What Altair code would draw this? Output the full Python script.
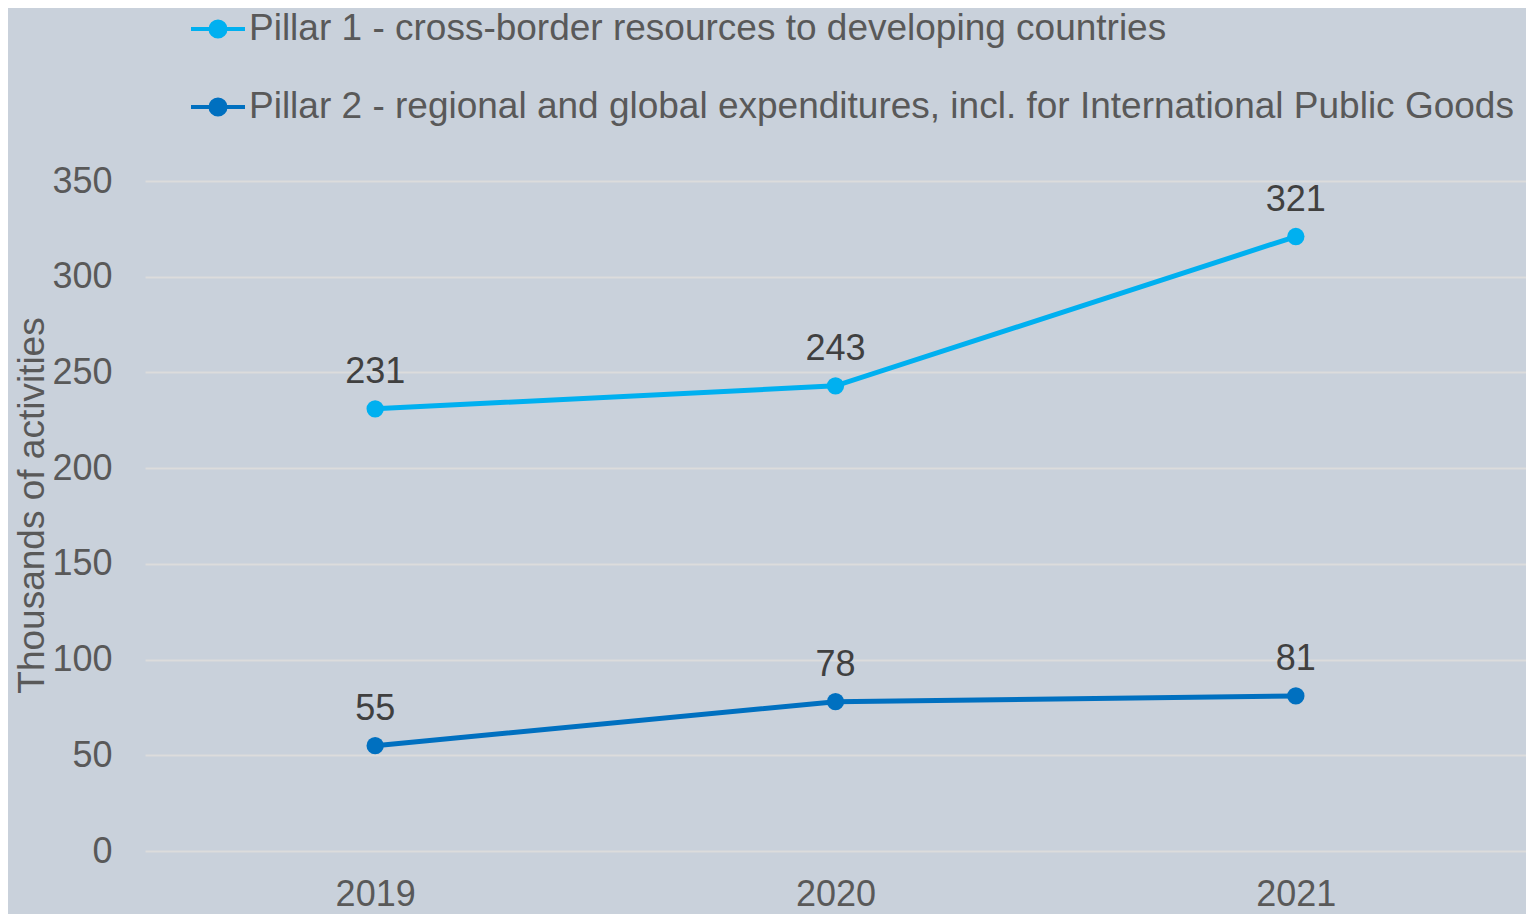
import altair as alt
import pandas as pd

years = ["2019", "2020", "2021"]
series_names = [
    "Pillar 1 - cross-border resources to developing countries",
    "Pillar 2 - regional and global expenditures, incl. for International Public Goods",
]
pillar1 = [231, 243, 321]
pillar2 = [55, 78, 81]
colors = ["#00B0F0", "#0070C0"]

rows = []
for name, vals in zip(series_names, [pillar1, pillar2]):
    for y, v in zip(years, vals):
        rows.append({"year": y, "series": name, "value": v})
df = pd.DataFrame(rows)

FONT = "Liberation Sans"

x = alt.X("year:O", scale=alt.Scale(type="point", padding=0.5),
          axis=alt.Axis(title=None, labelAngle=0, labelFontSize=36, labelColor="#595959",
                        labelFont=FONT, ticks=False, domain=False, grid=False, labelPadding=26))
y = alt.Y("value:Q", scale=alt.Scale(domain=[0, 350], nice=False),
          axis=alt.Axis(title="Thousands of activities", values=[0, 50, 100, 150, 200, 250, 300, 350],
                        labelFontSize=36, labelColor="#595959", labelFont=FONT,
                        titleFontSize=37, titleColor="#595959", titleFont=FONT, titleFontWeight="normal",
                        titlePadding=0, titleY=324, labelPadding=33, ticks=False, domain=False,
                        gridColor="#DCDCDC", gridWidth=2))
color_scale = alt.Scale(domain=series_names, range=colors)

symbol_path = "M-1,0H1M0.28,0A0.28,0.28,0,1,1,-0.28,0A0.28,0.28,0,1,1,0.28,0Z"

legend = alt.Legend(title=None, orient="none", legendX=44, legendY=-181,
                    symbolType=symbol_path, symbolSize=2916, symbolStrokeWidth=4,
                    labelFontSize=37, labelColor="#595959", labelFont=FONT,
                    labelLimit=3000, labelOffset=2, rowPadding=31,
                    direction="vertical")

color = alt.Color("series:N", scale=color_scale, legend=legend)

line = alt.Chart(df).mark_line(strokeWidth=5).encode(x=x, y=y, color=color)

points = alt.Chart(df).mark_point(filled=True, size=300, opacity=1).encode(x=x, y=y, color=color)

labels = alt.Chart(df).mark_text(dy=-37, fontSize=36, font=FONT, color="#404040").encode(
    x=x, y=y, text=alt.Text("value:Q")
)

chart = alt.layer(line, points, labels).properties(
    width=1381, height=670,
    padding={"left": 137, "top": 173, "right": 0, "bottom": 68},
    autosize=alt.AutoSizeParams(type="none"),
    background="#C9D1DB",
).configure_view(stroke=None)

chart.save("out.html", embed_options={"renderer": "svg", "actions": False})
